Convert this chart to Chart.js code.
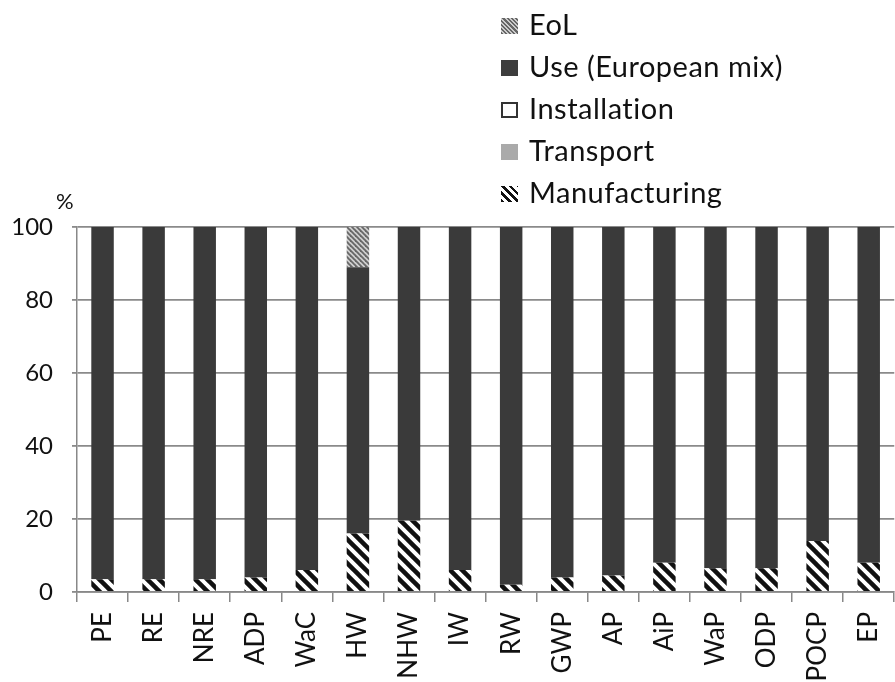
<!DOCTYPE html>
<html>
<head>
<meta charset="utf-8">
<script src="https://cdn.jsdelivr.net/npm/chart.js@4.4.1/dist/chart.umd.min.js"></script>
<style>
  html, body { margin: 0; padding: 0; background: #fff; overflow: hidden; }
  #wrap { position: relative; width: 895px; height: 682px; overflow: hidden; }
  #cnv { position: absolute; left: 0; top: 0; }
  #legend { position: absolute; left: 501px; top: 3px; font-family: Lato, sans-serif; font-size: 29px; letter-spacing: 0.5px; color: #111; }
  .row { height: 42px; line-height: 42px; white-space: nowrap; }
  .sw { display: inline-block; width: 17px; height: 16px; margin-right: 11px; vertical-align: 1px; box-sizing: border-box; }
  #pct { position: absolute; left: 56px; top: 187px; font-family: Lato, sans-serif; font-size: 22px; color: #111; }
</style>
</head>
<body>
<div id="wrap">
  <canvas id="cnv" width="910" height="682"></canvas>
  <div id="pct">%</div>
  <div id="legend">
    <div class="row"><span class="sw" style="background:repeating-linear-gradient(45deg,#666 0 1.5px,#ccc 1.5px 3px)"></span>EoL</div>
    <div class="row"><span class="sw" style="background:#3d3d3d"></span>Use (European mix)</div>
    <div class="row"><span class="sw" style="background:#fff;border:2px solid #333"></span>Installation</div>
    <div class="row"><span class="sw" style="background:#aaa"></span>Transport</div>
    <div class="row"><span class="sw" style="background:repeating-linear-gradient(45deg,#111 0 2.5px,#fff 2.5px 5.5px)"></span>Manufacturing</div>
  </div>
</div>
<script>
// categories and stacked shares (%)
const categories = ['PE','RE','NRE','ADP','WaC','HW','NHW','IW','RW','GWP','AP','AiP','WaP','ODP','POCP','EP']
const manufacturing = [3.5,3.5,3.5,4,6,16,19.5,6,2,4,4.5,8,6.5,6.5,14,8]
const transport = [0,0,0,0,0,0,0,0,0,0,0,0,0,0,0,0]
const installation = [0,0,0,0,0,0,0,0,0,0,0,0,0,0,0,0]
const useEU = [96.5,96.5,96.5,96,94,73,80.5,94,98,96,95.5,92,93.5,93.5,86,92]
const eol = [0,0,0,0,0,11,0,0,0,0,0,0,0,0,0,0]
const yTicks = [0,20,40,60,80,100]

function hatch(size, lw, fg, bg){
    var c = document.createElement('canvas')
    c.width = size; c.height = size
    var g = c.getContext('2d')
    g.fillStyle = bg
    g.fillRect(0,0,size,size)
    g.strokeStyle = fg
    g.lineWidth = lw
    for (var k=-1; k<=1; k++){
        g.beginPath()
        g.moveTo(-size + k*size, -size)
        g.lineTo(2*size + k*size, 2*size)
        g.stroke()
    }
    return g.createPattern(c, 'repeat')
}

var ctx = document.getElementById('cnv').getContext('2d')
var manuPat = hatch(12, 4.5, '#111', '#fff')
var eolPat = hatch(5, 1.8, '#666', '#cfcfcf')
var yFont = { family: 'Lato, sans-serif', size: 24 }
var xFont = { family: 'Lato, sans-serif', size: 26 }

var chart = new Chart(ctx, {
    type: 'bar',
    data: {
        labels: categories,
        datasets: [
            { label: 'Manufacturing', data: manufacturing, backgroundColor: manuPat },
            { label: 'Transport', data: transport, backgroundColor: '#aaa' },
            { label: 'Installation', data: installation, backgroundColor: '#fff', borderColor: '#333', borderWidth: 1 },
            { label: 'Use (European mix)', data: useEU, backgroundColor: '#3a3a3a' },
            { label: 'EoL', data: eol, backgroundColor: eolPat }
        ]
    },
    options: {
        responsive: false,
        animation: false,
        layout: { padding: { top: 227, right: 3, left: 0, bottom: 0 } },
        datasets: { bar: { categoryPercentage: 1, barPercentage: 0.44 } },
        plugins: { legend: { display: false }, tooltip: { enabled: false } },
        scales: {
            x: {
                stacked: true,
                afterFit: function(s){ s.height = 90 },
                grid: { drawOnChartArea: false, tickLength: 10, color: '#888', lineWidth: 1.5 },
                border: { color: '#888', width: 1.5 },
                ticks: { minRotation: 90, maxRotation: 90, autoSkip: false, padding: 10, color: '#111', font: xFont }
            },
            y: {
                stacked: true,
                min: 0, max: 100,
                afterFit: function(s){ s.width = 77 },
                afterBuildTicks: function(s){ s.ticks = yTicks.map(v => ({ value: v })) },
                grid: { color: '#8a8a8a', lineWidth: 1.8, tickLength: 5 },
                border: { color: '#888', width: 1.5 },
                ticks: { padding: 19, color: '#111', font: yFont }
            }
        }
    }
})
</script>
</body>
</html>
